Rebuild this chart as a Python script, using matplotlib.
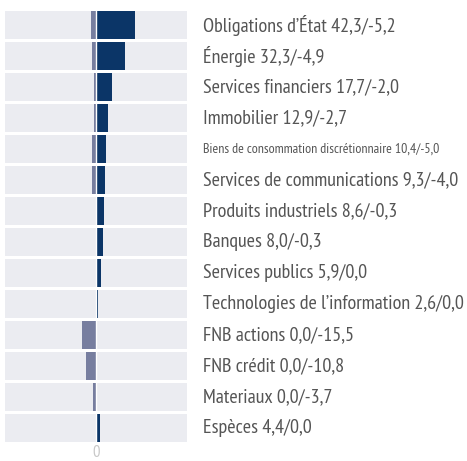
import numpy as np
import matplotlib.pyplot as plt

# Secteurs et pondérations (positif / négatif)
sectors = [
    "Obligations d’État",
    "Énergie",
    "Services financiers",
    "Immobilier",
    "Biens de consommation discrétionnaire",
    "Services de communications",
    "Produits industriels",
    "Banques",
    "Services publics",
    "Technologies de l’information",
    "FNB actions",
    "FNB crédit",
    "Materiaux",
    "Espèces",
]
long_vals = [42.3, 32.3, 17.7, 12.9, 10.4, 9.3, 8.6, 8.0, 5.9, 2.6, 0.0, 0.0, 0.0, 4.4]
short_vals = [-5.2, -4.9, -2.0, -2.7, -5.0, -4.0, -0.3, -0.3, 0.0, 0.0, -15.5, -10.8, -3.7, 0.0]
x_ticks = [0]

label_font = ["PT Sans Narrow", "DejaVu Sans"]

fig = plt.figure(figsize=(4.67, 4.61), dpi=100)
ax = fig.add_axes([0.0107, 0.038, 0.39, 0.941])

y = np.arange(len(sectors))
h = 0.9

# bandes grises de fond
ax.barh(y, 200, left=-100, height=h, color="#EBECF1", zorder=1)
ax.barh(y, short_vals, height=h, color="#777E9F", zorder=2)
ax.barh(y, long_vals, height=h, color="#0B3567", zorder=2)
ax.axvline(0, color="white", lw=1.0, zorder=3)

ax.set_xlim(-100, 100)
ax.set_ylim(len(sectors) - 0.5, -0.5)

for i, (s, lv, sv) in enumerate(zip(sectors, long_vals, short_vals)):
    txt = f"{s} {lv:.1f}/{sv:.1f}".replace(".", ",")
    if txt.endswith("/-0,0"):
        txt = txt[:-5] + "/0,0"
    size = 10 if len(s) > 30 else 14.5
    ax.text(1.088, i, txt, transform=ax.get_yaxis_transform(), va="center", ha="left",
            fontsize=size, color="#555555", family=label_font)

ax.set_xticks(x_ticks)
ax.set_xticklabels([str(t) for t in x_ticks], color="#C8C8C8", fontsize=12, family=label_font)
ax.tick_params(axis="x", length=0, pad=1)
ax.set_yticks([])
for sp in ax.spines.values():
    sp.set_visible(False)

plt.savefig("out.png", dpi=100)
